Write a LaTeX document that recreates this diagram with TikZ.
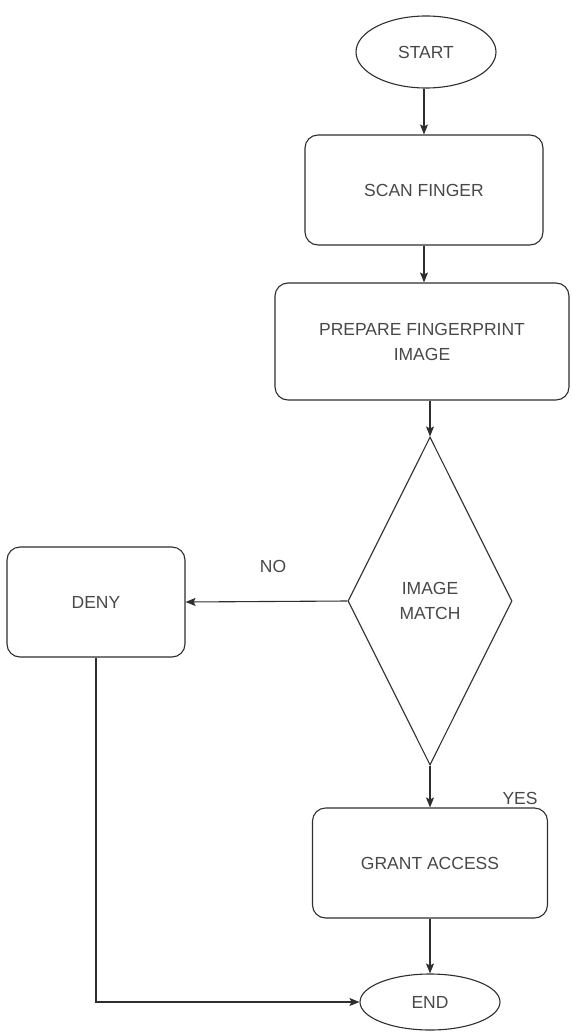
\documentclass[tikz,border=0pt]{standalone}
\usepackage{fontspec}
\setmainfont{Liberation Sans}
\usetikzlibrary{shapes.geometric,arrows.meta}
\definecolor{ink}{HTML}{2E2E2E}
\definecolor{txt}{HTML}{484848}
\begin{document}
\begin{tikzpicture}[x=1pt,y=-1pt,
  every node/.style={font=\fontsize{17.5}{25}\selectfont, text=txt, inner sep=0pt, align=center},
  proc/.style={draw=ink, line width=1.1pt, rounded corners=13pt},
  term/.style={draw=ink, line width=1.1pt, ellipse},
  decide/.style={draw=ink, line width=1.1pt, diamond},
  flow/.style={draw=ink, line width=1.1pt, -{Stealth[length=10pt,width=8pt,inset=2pt]}}]
\useasboundingbox (0,0) rectangle (571,1032);

% terminals, steps and the decision
\node[term, minimum width=140pt, minimum height=72pt] (start) at (426,52) {START};
\node[proc, minimum width=238pt, minimum height=110pt] (scan) at (424,190) {SCAN FINGER};
\node[proc, minimum width=294pt, minimum height=117pt] (prep) at (422,341.5) {PREPARE FINGERPRINT\\IMAGE};
\node[decide, minimum width=164pt, minimum height=328pt] (match) at (430,601) {IMAGE\\MATCH};
\node[proc, minimum width=178pt, minimum height=110pt] (deny) at (96,602) {DENY};
\node[proc, minimum width=235pt, minimum height=110pt] (grant) at (430,863) {GRANT ACCESS};
\node[term, minimum width=140pt, minimum height=56pt] (end) at (430,1002) {END};

% branch labels
\node (no) at (273,566) {NO};
\node (yes) at (520,798) {YES};

% connectors
\draw[flow] (start.south -| scan.north) -- (scan.north);
\draw[flow] (scan.south) -- (scan.south |- prep.north);
\draw[flow] (prep.south -| match.north) -- (match.north);
\draw[flow] (match.west) -- (deny.east);
\draw[flow] (match.south) -- (grant.north);
\draw[flow] (grant.south) -- (end.north);
\draw[flow] (deny.south) |- (end.west);
\end{tikzpicture}
\end{document}
